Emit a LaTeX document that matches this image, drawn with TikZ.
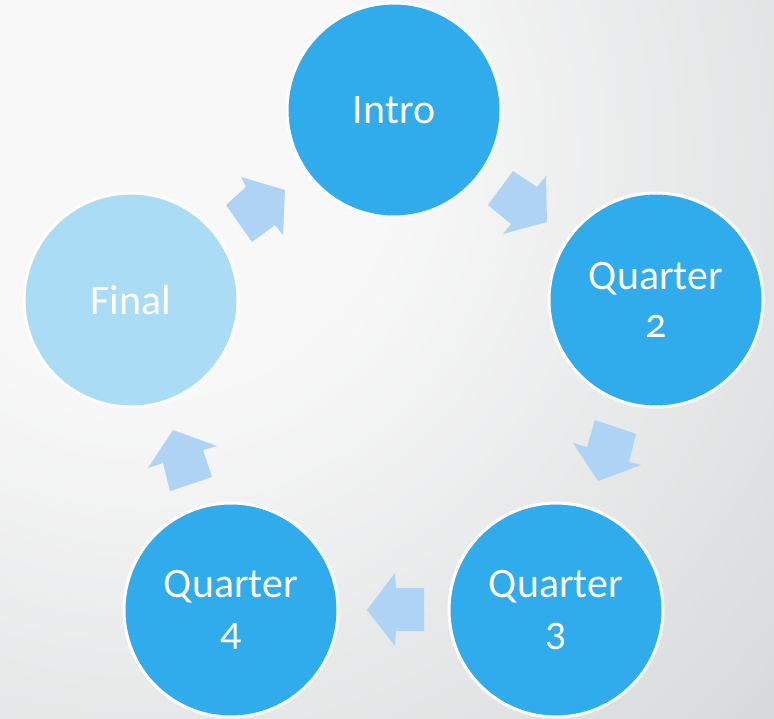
\documentclass[tikz,border=0pt]{standalone}
\usepackage{fontspec}
\setmainfont{Carlito}[Numbers=OldStyle]
\definecolor{bglight}{HTML}{F8F8F8}
\definecolor{bgdark}{HTML}{D8DBDC}
\definecolor{stagefill}{HTML}{30ABEB}
\definecolor{finalfill}{HTML}{ABDCF6}
\definecolor{arrowfill}{HTML}{AFD3F4}
\tikzset{
  stage/.style={circle, minimum size=214pt, inner sep=0pt, draw=white,
    line width=3pt, fill=stagefill, text=white, align=center,
    font=\fontsize{42}{48}\selectfont},
  finalstage/.style={stage, fill=finalfill},
  blockarrow/.style={fill=arrowfill}
}
\begin{document}
\begin{tikzpicture}[x=1pt, y=-1pt]
  \useasboundingbox (0,0) rectangle (774,719);
  % soft grey backdrop: rings that darken away from the upper left
  \begin{scope}
    \clip (0,0) rectangle (774,719);
    \fill[bgdark] (0,0) rectangle (774,719);
    \foreach \r in {840,828,...,240} {
      \pgfmathsetmacro\t{max(0,min(100,(\r-250)/5.8))}
      \fill[bgdark!\t!bglight] (150,150) circle (\r);
    }
  \end{scope}

  % stages of the cycle
  \node[stage]      (intro) at (394,110) {Intro};
  \node[stage]      (q2)    at (656,300) {Quarter\\2};
  \node[stage]      (q3)    at (556,610) {Quarter\\3};
  \node[stage]      (q4)    at (231,610) {Quarter\\4};
  \node[finalstage] (final) at (131,300) {Final};

  % block arrows between the stages
  \fill[blockarrow] (488,205) -- (513,171) -- (537,187) -- (546,176)
    -- (547,222) -- (503,234) -- (511,224) -- cycle;
  \fill[blockarrow] (595,420) -- (636,434) -- (629,462) -- (641,465)
    -- (598,481) -- (573,443) -- (587,447) -- cycle;
  \fill[blockarrow] (424,588) -- (396,588) -- (395,573) -- (367,610)
    -- (395,646) -- (396,631) -- (424,631) -- cycle;
  \fill[blockarrow] (212,477) -- (170,491) -- (163,463) -- (148,468)
    -- (173,430) -- (217,446) -- (203,450) -- cycle;
  \fill[blockarrow] (252,242) -- (226,205) -- (246,187) -- (241,177)
    -- (285,190) -- (283,235) -- (275,225) -- cycle;
\end{tikzpicture}
\end{document}
